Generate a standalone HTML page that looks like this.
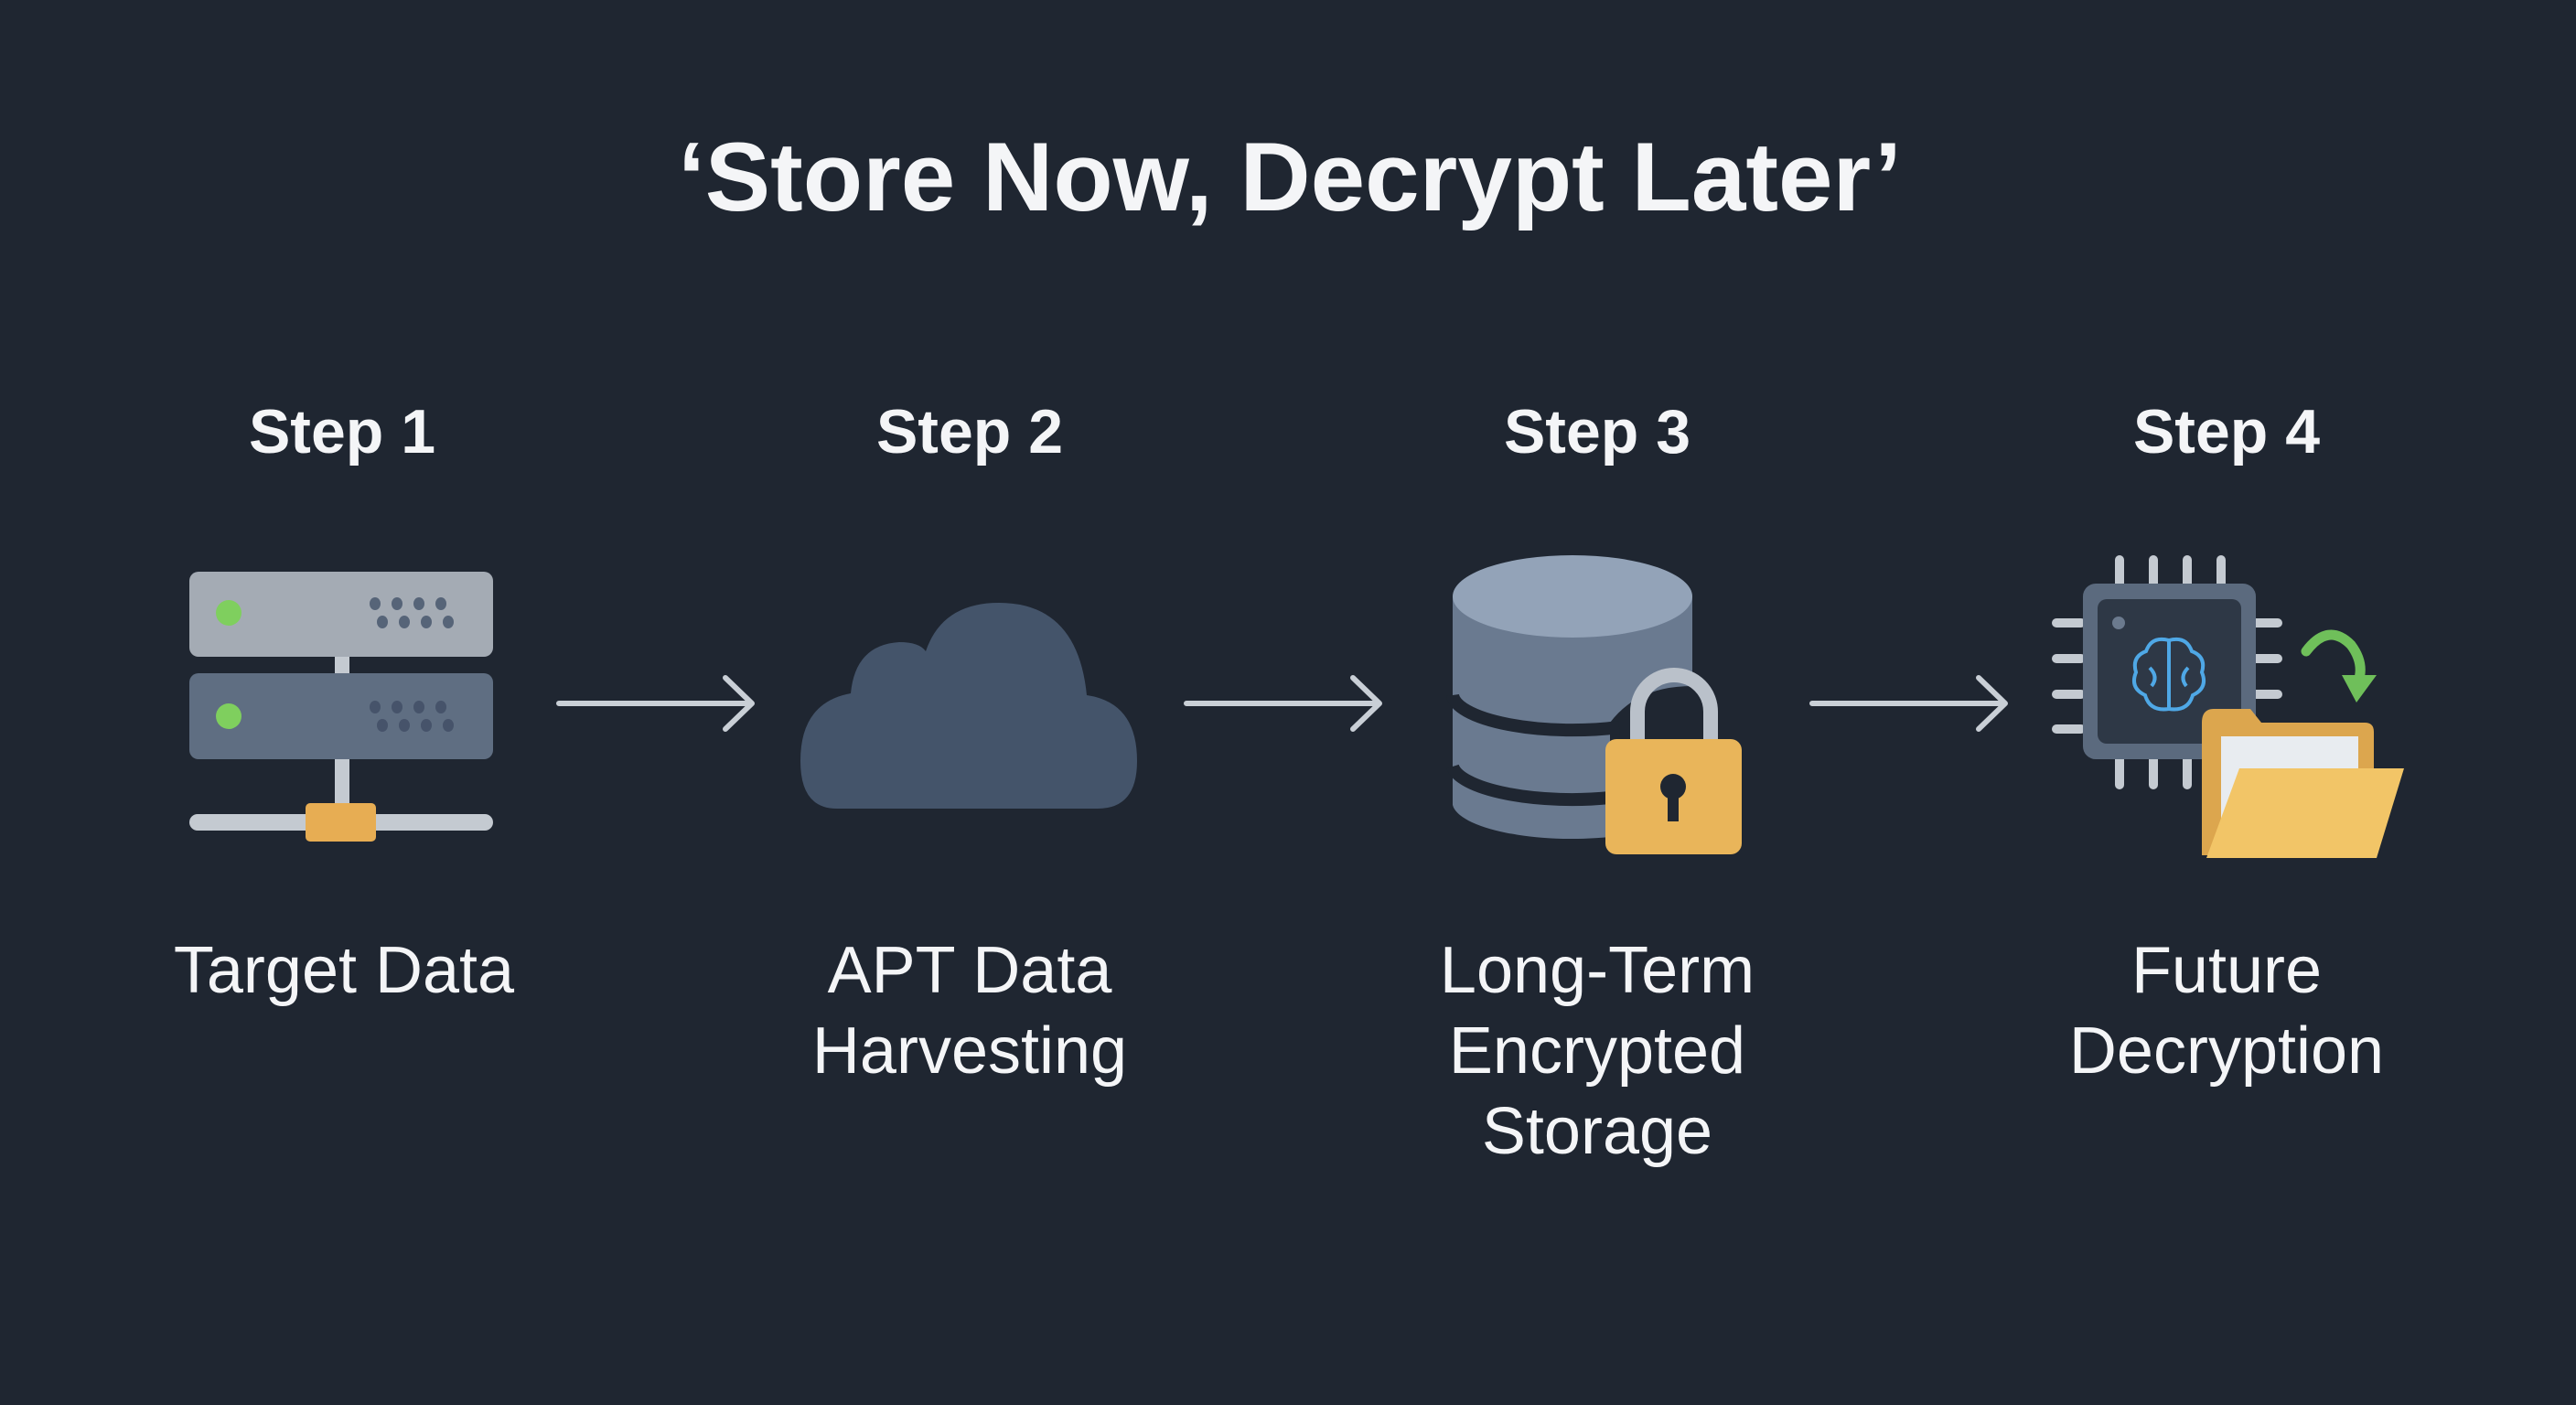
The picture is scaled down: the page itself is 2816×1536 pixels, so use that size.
<!DOCTYPE html>
<html><head><meta charset="utf-8"><style>
html,body{margin:0;padding:0;background:#1f2631;}
svg{display:block}
</style></head><body>
<svg width="2816" height="1536" viewBox="0 0 2816 1536" xmlns="http://www.w3.org/2000/svg">
<rect width="2816" height="1536" fill="#1f2631"/>
<g font-family="Liberation Sans, sans-serif" fill="#f4f5f7" text-anchor="middle">
<text x="1410" y="230" font-size="107" font-weight="bold">‘Store Now, Decrypt Later’</text>
<text x="374" y="495" font-size="68" font-weight="bold">Step 1</text>
<text x="1060" y="495" font-size="68" font-weight="bold">Step 2</text>
<text x="1746" y="495" font-size="68" font-weight="bold">Step 3</text>
<text x="2434" y="495" font-size="68" font-weight="bold">Step 4</text>
<g font-size="72">
<text x="376" y="1085">Target Data</text>
<text x="1060" y="1085">APT Data</text>
<text x="1060" y="1173">Harvesting</text>
<text x="1746" y="1085">Long-Term</text>
<text x="1746" y="1173">Encrypted</text>
<text x="1746" y="1261">Storage</text>
<text x="2434" y="1085">Future</text>
<text x="2434" y="1173">Decryption</text>
</g>
</g>
<!-- arrows -->
<g stroke="#c9cfd6" stroke-width="6" fill="none" stroke-linecap="round" stroke-linejoin="round">
<path d="M611 769 H820 M793 741 L822 769 L793 797"/>
<path d="M1297 769 H1506 M1479 741 L1508 769 L1479 797"/>
<path d="M1981 769 H2190 M2163 741 L2192 769 L2163 797"/>
</g>
<!-- server -->
<rect x="366" y="715" width="16" height="180" fill="#c4cad1"/>
<rect x="207" y="625" width="332" height="93" rx="10" fill="#a4abb4"/>
<rect x="207" y="736" width="332" height="94" rx="10" fill="#5f6e82"/>
<circle cx="250" cy="670" r="14" fill="#7fcf5e"/>
<circle cx="250" cy="783" r="14" fill="#7fcf5e"/>
<g fill="#566478">
<ellipse cx="410" cy="660" rx="6" ry="7"/><ellipse cx="434" cy="660" rx="6" ry="7"/><ellipse cx="458" cy="660" rx="6" ry="7"/><ellipse cx="482" cy="660" rx="6" ry="7"/>
<ellipse cx="418" cy="680" rx="6" ry="7"/><ellipse cx="442" cy="680" rx="6" ry="7"/><ellipse cx="466" cy="680" rx="6" ry="7"/><ellipse cx="490" cy="680" rx="6" ry="7"/>
</g>
<g fill="#46536a">
<ellipse cx="410" cy="773" rx="6" ry="7"/><ellipse cx="434" cy="773" rx="6" ry="7"/><ellipse cx="458" cy="773" rx="6" ry="7"/><ellipse cx="482" cy="773" rx="6" ry="7"/>
<ellipse cx="418" cy="793" rx="6" ry="7"/><ellipse cx="442" cy="793" rx="6" ry="7"/><ellipse cx="466" cy="793" rx="6" ry="7"/><ellipse cx="490" cy="793" rx="6" ry="7"/>
</g>
<rect x="207" y="890" width="332" height="18" rx="9" fill="#c4cad1"/>
<rect x="334" y="878" width="77" height="42" rx="5" fill="#e7ad53"/>
<!-- cloud -->
<path d="M915 884 Q875 884 875 832 Q875 768 930 758 Q935 705 983 702 Q1005 702 1012 712 Q1030 659 1092 659 Q1178 659 1188 760 Q1243 768 1243 832 Q1243 884 1200 884 Z" fill="#44546a"/>
<!-- database -->
<g>
<path d="M1588 652 V880 A131 40 0 0 0 1760 915 V790 Q1790 750 1850 750 V652 Z" fill="#6a7a90"/>
<path d="M1588 760 A131 40 0 0 0 1770 795" fill="none" stroke="#1f2631" stroke-width="14"/>
<path d="M1588 838 A131 40 0 0 0 1760 872" fill="none" stroke="#1f2631" stroke-width="14"/>
<ellipse cx="1719" cy="652" rx="131" ry="45" fill="#93a3b8"/>
</g>
<!-- lock -->
<path d="M1790 815 V778 A40 40 0 0 1 1870 778 V815" fill="none" stroke="#bac1ca" stroke-width="16"/>
<rect x="1755" y="808" width="149" height="126" rx="12" fill="#e9b55a"/>
<circle cx="1829" cy="860" r="14" fill="#1f2631"/>
<rect x="1823" y="862" width="12" height="36" fill="#1f2631"/>
<!-- chip -->
<g stroke="#c4cad1" stroke-width="10" stroke-linecap="round">
<path d="M2317 612 V640 M2354 612 V640 M2391 612 V640 M2428 612 V640"/>
<path d="M2317 830 V858 M2354 830 V858 M2391 830 V858"/>
<path d="M2248 681 H2275 M2248 720 H2275 M2248 759 H2275 M2248 797 H2275"/>
<path d="M2466 681 H2490 M2466 720 H2490 M2466 759 H2490"/>
</g>
<rect x="2277" y="638" width="189" height="192" rx="14" fill="#5b6a7e"/>
<rect x="2293" y="655" width="157" height="158" rx="10" fill="#2e3846"/>
<circle cx="2316" cy="681" r="7" fill="#6b7a8e"/>
<g fill="none" stroke="#4fa8e6" stroke-width="4">
<path d="M2371 700 Q2352 695 2346 712 Q2330 718 2335 735 Q2328 752 2345 760 Q2350 778 2371 775 Z"/>
<path d="M2371 700 Q2390 695 2396 712 Q2412 718 2407 735 Q2414 752 2397 760 Q2392 778 2371 775 Z"/>
<path d="M2350 730 Q2360 740 2352 750 M2392 730 Q2382 740 2390 750"/>
</g>
<!-- green arrow -->
<path d="M2521 712 Q2545 680 2570 705 Q2585 725 2578 745" fill="none" stroke="#6fbf5a" stroke-width="11" stroke-linecap="round"/>
<path d="M2560 738 L2598 738 L2576 768 Z" fill="#6fbf5a"/>
<!-- folder -->
<path d="M2407 790 Q2407 775 2420 775 H2460 L2472 790 H2585 Q2595 790 2595 800 V935 H2407 Z" fill="#dca64e"/>
<rect x="2428" y="805" width="150" height="110" fill="#e8ecf0"/>
<path d="M2448 840 H2628 L2598 938 H2412 Z" fill="#f2c567"/>
</svg>
</body></html>
